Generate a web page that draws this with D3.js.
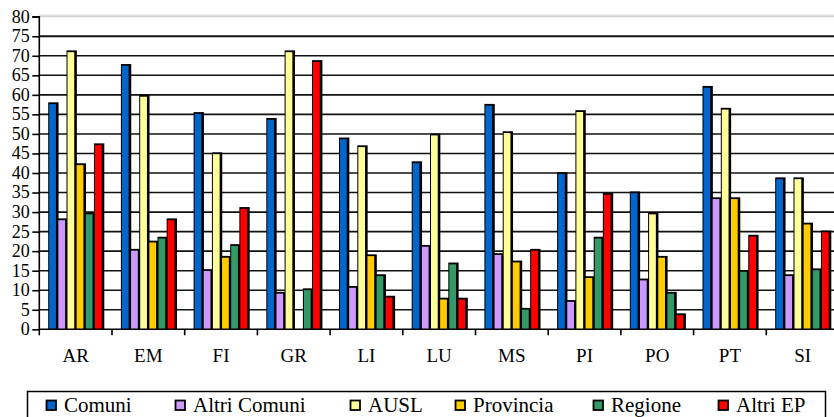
<!DOCTYPE html>
<html><head><meta charset="utf-8">
<script src="https://cdn.jsdelivr.net/npm/d3@7"></script>
</head>
<body style="margin:0;overflow:hidden;background:#fff">
<svg id="c" width="834" height="417"></svg>
<script>
const categories = ["AR","EM","FI","GR","LI","LU","MS","PI","PO","PT","SI"];
const seriesNames = ["Comuni","Altri Comuni","AUSL","Provincia","Regione","Altri EP"];
const comuni      = [57.7, 67.5, 55.2, 53.7, 48.7, 42.6, 57.3, 39.8, 34.9, 61.9, 38.5];
const altriComuni = [28.0, 20.2, 15.0,  9.2, 10.7, 21.2, 19.1,  7.1, 12.6, 33.4, 13.7];
const ausl        = [71.0, 59.6, 44.9, 71.0, 46.7, 49.7, 50.3, 55.7, 29.5, 56.3, 38.5];
const provincia   = [42.1, 22.3, 18.4,  0.0, 18.8,  7.7, 17.2, 13.2, 18.4, 33.4, 26.9];
const regione     = [29.5, 23.3, 21.4, 10.1, 13.7, 16.7,  5.1, 23.3,  9.2, 14.8, 15.2];
const altriEP     = [47.2, 28.0, 30.9, 68.5,  8.2,  7.7, 20.2, 34.5,  3.7, 23.8, 24.9];
const yTicks = [0,5,10,15,20,25,30,35,40,45,50,55,60,65,70,75,80];
const colors = ["#0066CC","#CC99FF","#FFFF99","#FFCC00","#339966","#FF0000"];

const seriesValues = [comuni, altriComuni, ausl, provincia, regione, altriEP];
const svg = d3.select("#c");

const x0 = 39.3, y0 = 329.3, yTop = 16.7, catW = 72.7;
const x = d3.scaleBand().domain(categories).range([x0, x0 + catW*categories.length]).padding(0);
const gap = 8.9;
const xs = d3.scaleBand().domain(seriesNames).range([gap, x.bandwidth()-gap]).padding(0);
const y = d3.scaleLinear().domain([0,80]).range([y0, yTop]);

svg.append("line").attr("x1",x0).attr("x2",834).attr("y1",15.2).attr("y2",15.2)
  .attr("stroke","#d0d0d0").attr("stroke-width",1);
svg.append("g").selectAll("line").data(yTicks.filter(d=>d>0)).join("line")
  .attr("x1",x0).attr("x2",840)
  .attr("y1",d=>y(d)).attr("y2",d=>y(d))
  .attr("stroke",d=>d===80?"#c8c8c8":"#111")
  .attr("stroke-width",d=>d===80?1:(d===75?2:1.6));

const rows = [];
categories.forEach((c,i)=>seriesNames.forEach((s,j)=>rows.push({c,s,j,v:seriesValues[j][i]})));
const gb = svg.append("g");
rows.filter(r=>r.v>0).forEach(r=>{
  const bx = x(r.c) + xs(r.s), bw = xs.bandwidth(), by = y(r.v), bh = y0 - by;
  gb.append("rect").attr("x",bx).attr("y",by-1.5).attr("width",bw+1.2).attr("height",bh+1.5).attr("fill","#000");
  gb.append("rect").attr("x",bx+1).attr("y",by+0.3).attr("width",Math.max(0,bw-2.4)).attr("height",Math.max(0,bh-0.3)).attr("fill",colors[r.j]);
});

// y axis (lines only, labels drawn as plain svg text)
const yAxis = d3.axisLeft(y).tickValues(yTicks).tickSize(7).tickFormat("");
const ga = svg.append("g").attr("transform",`translate(${x0},0)`).call(yAxis);
ga.select(".domain").attr("stroke","#000").attr("stroke-width",1.6).attr("d",`M-7,${y(80)}H0V${y0}`);
ga.selectAll(".tick line").attr("stroke","#000").attr("stroke-width",1.6);
ga.selectAll(".tick text").remove();
svg.selectAll("text.ylab").data(yTicks).join("text").attr("class","ylab")
  .attr("x",x0-9.5).attr("y",d=>y(d)).attr("dy","0.33em").attr("text-anchor","end")
  .style("font-family",'"Times New Roman"').attr("font-size",18).text(d=>d);

// x axis
const xAxis = d3.axisBottom(x).tickSize(0).tickFormat("");
const gx = svg.append("g").attr("transform",`translate(0,${y0})`).call(xAxis);
gx.select(".domain").attr("stroke","#000").attr("stroke-width",1.6).attr("d",`M${x0},0H840`);
gx.selectAll(".tick text").remove();
svg.selectAll("text.xlab").data(categories).join("text").attr("class","xlab")
  .attr("x",d=>x(d)+x.bandwidth()/2).attr("y",362).attr("text-anchor","middle")
  .style("font-family",'"Times New Roman"').attr("font-size",19).text(d=>d);
svg.append("g").selectAll("line").data(d3.range(categories.length+1)).join("line")
  .attr("x1",i=>x0+i*x.bandwidth()).attr("x2",i=>x0+i*x.bandwidth())
  .attr("y1",y0).attr("y2",y0+6).attr("stroke","#000").attr("stroke-width",1.6);

// legend
const legendX = [46,175,350,455,593,718];
svg.append("rect").attr("x",27.5).attr("y",391.5).attr("width",798).attr("height",40)
  .attr("fill","#fff").attr("stroke","#000").attr("stroke-width",1.5);
svg.selectAll("rect.lsw").data(seriesNames).join("rect").attr("class","lsw")
  .attr("x",(d,i)=>legendX[i]+0.5).attr("y",400.5).attr("width",9.5).attr("height",9.5)
  .attr("fill",(d,i)=>colors[i]).attr("stroke","#000").attr("stroke-width",1.8);
svg.selectAll("text.ltx").data(seriesNames).join("text").attr("class","ltx")
  .attr("x",(d,i)=>legendX[i]+18).attr("y",412)
  .style("font-family",'"Times New Roman"').attr("font-size",21).text(d=>d);
</script>
</body></html>
